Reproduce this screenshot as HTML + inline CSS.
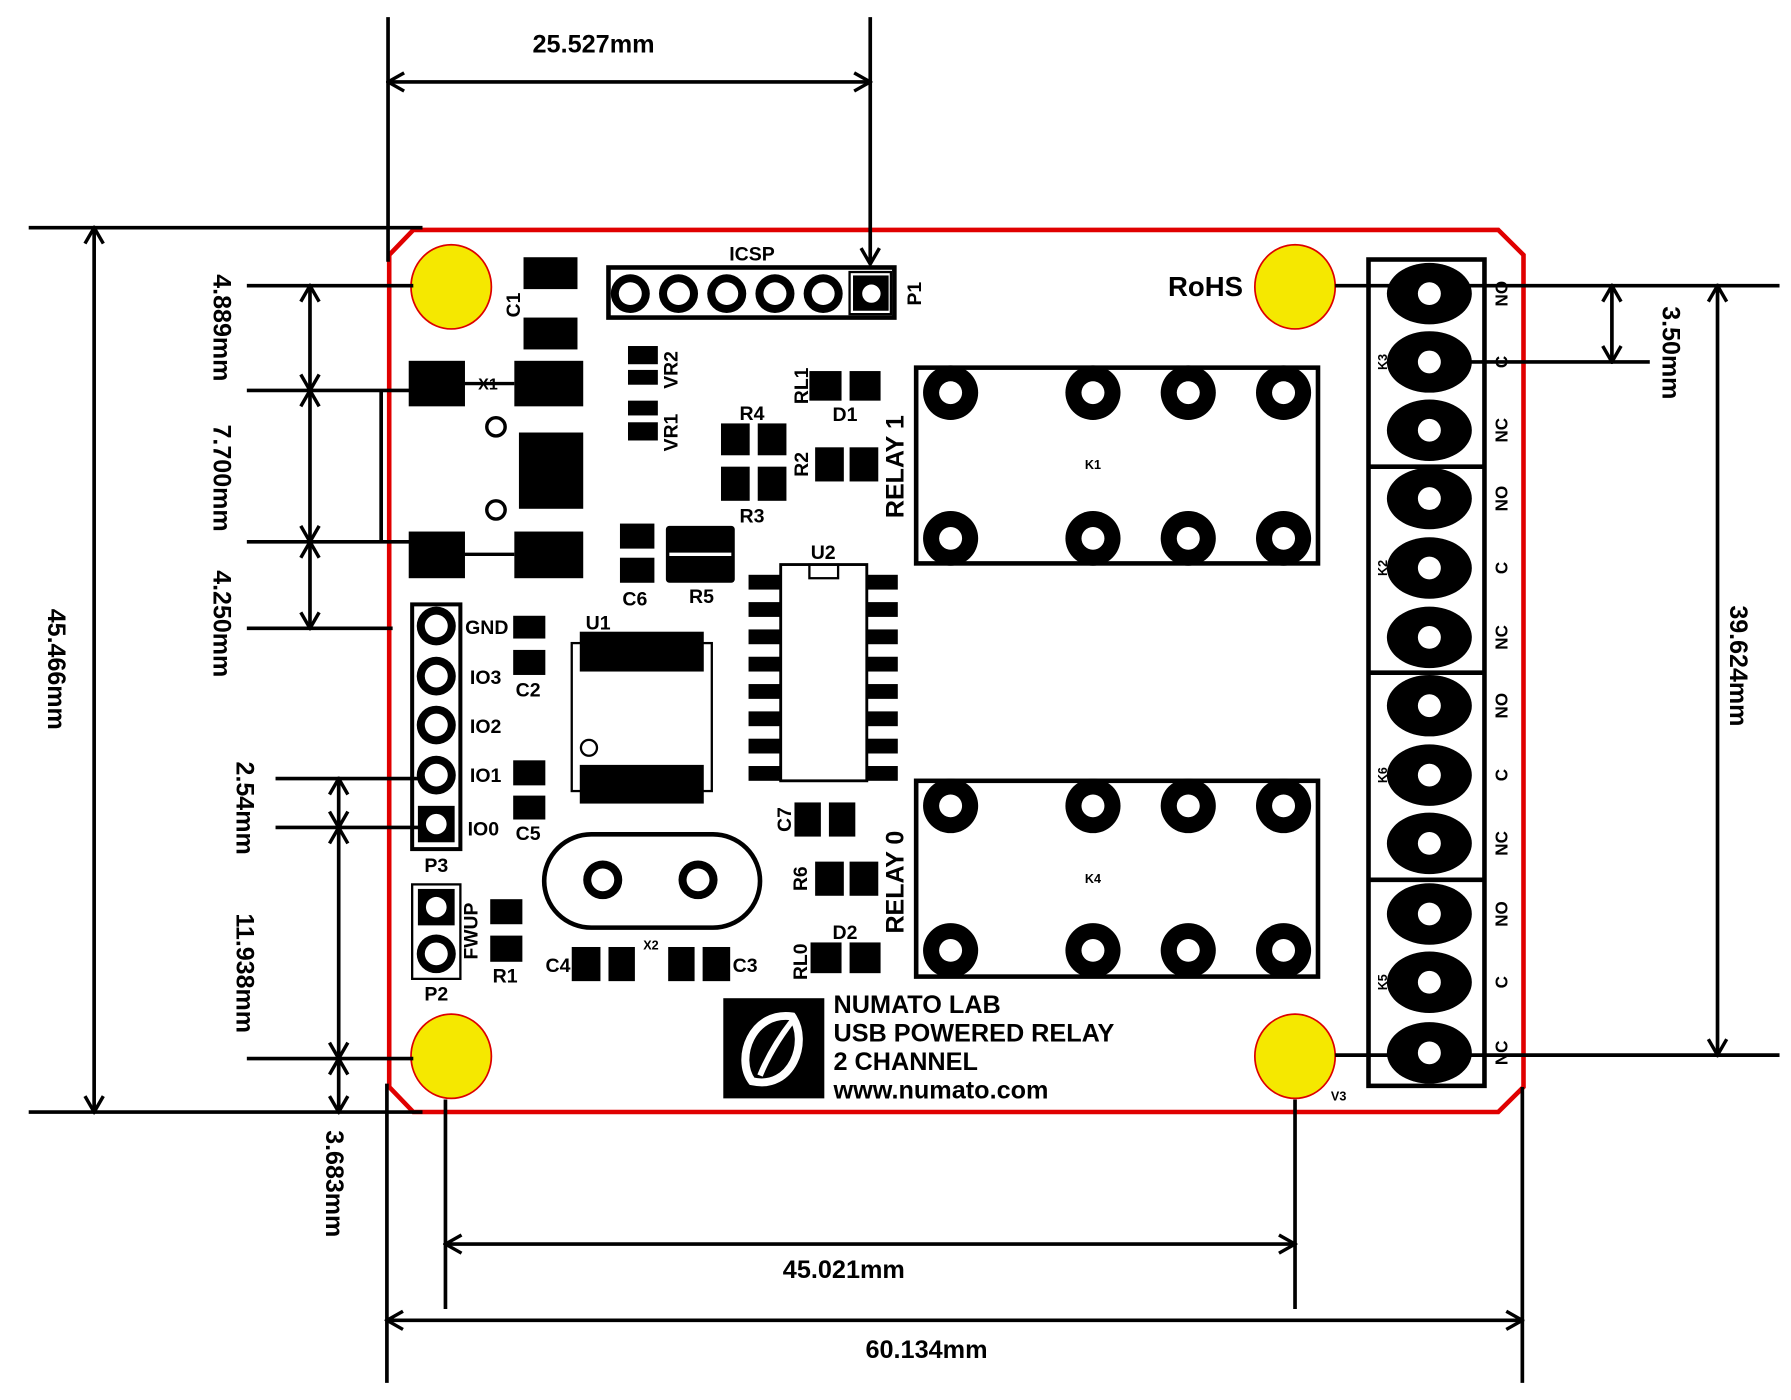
<!DOCTYPE html>
<html><head><meta charset="utf-8"><style>
html,body{margin:0;padding:0;background:#fff;}
svg{display:block;}
text{font-family:"Liberation Sans",sans-serif;font-weight:bold;fill:#000;}
</style></head><body>
<svg width="1791" height="1400" viewBox="0 0 1560 1230" preserveAspectRatio="none" xmlns="http://www.w3.org/2000/svg">
<defs>
<marker id="a" viewBox="-16 -10 18 20" markerWidth="18" markerHeight="20" refX="0" refY="0" orient="auto-start-reverse" markerUnits="userSpaceOnUse">
<path d="M-14,-8 L0,0 L-14,8" fill="none" stroke="#000" stroke-width="3"/>
</marker>
<g id="pin"><circle r="24" fill="#000"/><circle r="10" fill="#fff"/></g>
<g id="oval"><ellipse rx="37" ry="27" fill="#000"/><circle r="10" fill="#fff"/></g>
<g id="ring"><circle r="17" fill="#000"/><circle r="10" fill="#fff"/></g>
</defs>

<!-- board -->
<path d="M360,202 L1305,202 L1327,224 L1327,955 L1305,977 L360,977 L339,955 L339,224 Z" fill="none" stroke="#e00000" stroke-width="4"/>

<!-- mounting holes -->
<g fill="#f5e800" stroke="#d00" stroke-width="1.5">
<ellipse cx="393" cy="252" rx="35" ry="37"/><ellipse cx="1128" cy="252" rx="35" ry="37"/>
<ellipse cx="393" cy="928" rx="35" ry="37"/><ellipse cx="1128" cy="928" rx="35" ry="37"/>
</g>

<!-- dimension lines -->
<g stroke="#000" stroke-width="3.2" fill="none">
<line x1="338" y1="15" x2="338" y2="230"/>
<line x1="758" y1="15" x2="758" y2="232" marker-end="url(#a)"/>
<line x1="338" y1="72" x2="758" y2="72" marker-start="url(#a)" marker-end="url(#a)"/>
<line x1="25" y1="200" x2="368" y2="200"/>
<line x1="25" y1="977" x2="368" y2="977"/>
<line x1="82" y1="200" x2="82" y2="977" marker-start="url(#a)" marker-end="url(#a)"/>
<line x1="215" y1="251" x2="360" y2="251"/>
<line x1="215" y1="343" x2="360" y2="343"/>
<line x1="215" y1="476" x2="360" y2="476"/>
<line x1="215" y1="552" x2="342" y2="552"/>
<line x1="332" y1="343" x2="332" y2="476"/>
<line x1="270" y1="251" x2="270" y2="343" marker-start="url(#a)" marker-end="url(#a)"/>
<line x1="270" y1="343" x2="270" y2="476" marker-start="url(#a)" marker-end="url(#a)"/>
<line x1="270" y1="476" x2="270" y2="552" marker-start="url(#a)" marker-end="url(#a)"/>
<line x1="240" y1="684" x2="368" y2="684"/>
<line x1="240" y1="727" x2="368" y2="727"/>
<line x1="215" y1="930" x2="360" y2="930"/>
<line x1="295" y1="684" x2="295" y2="727" marker-start="url(#a)" marker-end="url(#a)"/>
<line x1="295" y1="727" x2="295" y2="930" marker-start="url(#a)" marker-end="url(#a)"/>
<line x1="295" y1="930" x2="295" y2="977" marker-start="url(#a)" marker-end="url(#a)"/>
<line x1="337" y1="952" x2="337" y2="1215"/>
<line x1="388" y1="966" x2="388" y2="1150"/>
<line x1="1128" y1="966" x2="1128" y2="1150"/>
<line x1="1326" y1="955" x2="1326" y2="1215"/>
<line x1="388" y1="1093" x2="1128" y2="1093" marker-start="url(#a)" marker-end="url(#a)"/>
<line x1="337" y1="1160" x2="1326" y2="1160" marker-start="url(#a)" marker-end="url(#a)"/>
<line x1="1163" y1="251" x2="1550" y2="251"/>
<line x1="1245" y1="318" x2="1437" y2="318"/>
<line x1="1163" y1="927" x2="1550" y2="927"/>
<line x1="1404" y1="251" x2="1404" y2="318" marker-start="url(#a)" marker-end="url(#a)"/>
<line x1="1496" y1="251" x2="1496" y2="927" marker-start="url(#a)" marker-end="url(#a)"/>
</g>
<g font-size="22">
<text x="517" y="46" text-anchor="middle">25.527mm</text>
<text x="735" y="1123" text-anchor="middle">45.021mm</text>
<text x="807" y="1193" text-anchor="middle">60.134mm</text>
<text transform="translate(42,588) rotate(90)" text-anchor="middle">45.466mm</text>
<text transform="translate(186,288) rotate(90)" text-anchor="middle">4.889mm</text>
<text transform="translate(186,420) rotate(90)" text-anchor="middle">7.700mm</text>
<text transform="translate(186,548) rotate(90)" text-anchor="middle">4.250mm</text>
<text transform="translate(206,710) rotate(90)" text-anchor="middle">2.54mm</text>
<text transform="translate(206,855) rotate(90)" text-anchor="middle">11.938mm</text>
<text transform="translate(284,1040) rotate(90)" text-anchor="middle">3.683mm</text>
<text transform="translate(1448,310) rotate(90)" text-anchor="middle">3.50mm</text>
<text transform="translate(1507,585) rotate(90)" text-anchor="middle">39.624mm</text>
</g>

<text x="1050" y="260" font-size="24" text-anchor="middle">RoHS</text>

<!-- terminal block -->
<g fill="none" stroke="#000" stroke-width="4">
<rect x="1192" y="228" width="101" height="726"/>
<line x1="1192" y1="410" x2="1293" y2="410"/>
<line x1="1192" y1="591" x2="1293" y2="591"/>
<line x1="1192" y1="773" x2="1293" y2="773"/>
</g>
<g>
<use href="#oval" x="1245" y="258"/><use href="#oval" x="1245" y="318"/><use href="#oval" x="1245" y="378"/>
<use href="#oval" x="1245" y="438"/><use href="#oval" x="1245" y="499"/><use href="#oval" x="1245" y="560"/>
<use href="#oval" x="1245" y="620"/><use href="#oval" x="1245" y="681"/><use href="#oval" x="1245" y="741"/>
<use href="#oval" x="1245" y="803"/><use href="#oval" x="1245" y="863"/><use href="#oval" x="1245" y="925"/>
</g>
<g font-size="15" text-anchor="middle">
<text transform="translate(1313,258) rotate(-90)">NO</text><text transform="translate(1313,318) rotate(-90)">C</text><text transform="translate(1313,378) rotate(-90)">NC</text>
<text transform="translate(1313,438) rotate(-90)">NO</text><text transform="translate(1313,499) rotate(-90)">C</text><text transform="translate(1313,560) rotate(-90)">NC</text>
<text transform="translate(1313,620) rotate(-90)">NO</text><text transform="translate(1313,681) rotate(-90)">C</text><text transform="translate(1313,741) rotate(-90)">NC</text>
<text transform="translate(1313,803) rotate(-90)">NO</text><text transform="translate(1313,863) rotate(-90)">C</text><text transform="translate(1313,925) rotate(-90)">NC</text>
</g>
<g font-size="11" text-anchor="middle">
<text transform="translate(1208,318) rotate(-90)">K3</text><text transform="translate(1208,499) rotate(-90)">K2</text>
<text transform="translate(1208,681) rotate(-90)">K6</text><text transform="translate(1208,863) rotate(-90)">K5</text>
<text x="1166" y="967" font-weight="normal">V3</text>
</g>

<!-- relays -->
<g fill="none" stroke="#000" stroke-width="4">
<rect x="798" y="323" width="350" height="172"/>
<rect x="798" y="686" width="350" height="172"/>
</g>
<g>
<use href="#pin" x="828" y="345"/><use href="#pin" x="952" y="345"/><use href="#pin" x="1035" y="345"/><use href="#pin" x="1118" y="345"/>
<use href="#pin" x="828" y="473"/><use href="#pin" x="952" y="473"/><use href="#pin" x="1035" y="473"/><use href="#pin" x="1118" y="473"/>
<use href="#pin" x="828" y="708"/><use href="#pin" x="952" y="708"/><use href="#pin" x="1035" y="708"/><use href="#pin" x="1118" y="708"/>
<use href="#pin" x="828" y="835"/><use href="#pin" x="952" y="835"/><use href="#pin" x="1035" y="835"/><use href="#pin" x="1118" y="835"/>
</g>
<text x="952" y="412" font-size="11" font-weight="normal" text-anchor="middle">K1</text>
<text x="952" y="776" font-size="11" font-weight="normal" text-anchor="middle">K4</text>
<text transform="translate(787,410) rotate(-90)" font-size="22" text-anchor="middle">RELAY 1</text>
<text transform="translate(787,775) rotate(-90)" font-size="22" text-anchor="middle">RELAY 0</text>

<!-- ICSP -->
<rect x="530" y="235" width="249" height="44" fill="none" stroke="#000" stroke-width="4"/>
<rect x="740" y="239" width="36" height="37" fill="none" stroke="#000" stroke-width="2"/>
<use href="#ring" x="549" y="258"/><use href="#ring" x="591" y="258"/><use href="#ring" x="633" y="258"/><use href="#ring" x="675" y="258"/><use href="#ring" x="717" y="258"/>
<rect x="743" y="242" width="31" height="31" fill="#000"/><circle cx="759" cy="258" r="8" fill="#fff"/>
<text x="655" y="229" font-size="17" text-anchor="middle">ICSP</text>
<text transform="translate(802,258) rotate(-90)" font-size="17" text-anchor="middle">P1</text>

<!-- left components -->
<g fill="#000">
<rect x="456" y="226" width="47" height="28"/><rect x="456" y="279" width="47" height="28"/>
<rect x="356" y="317" width="49" height="40"/><rect x="448" y="317" width="60" height="40"/>
<rect x="452" y="380" width="56" height="67"/>
<rect x="356" y="467" width="49" height="41"/><rect x="448" y="467" width="60" height="41"/>
<rect x="547" y="304" width="26" height="16"/><rect x="547" y="325" width="26" height="13"/>
<rect x="547" y="352" width="26" height="13"/><rect x="547" y="371" width="26" height="16"/>
<rect x="628" y="372" width="25" height="28"/><rect x="660" y="372" width="25" height="28"/>
<rect x="628" y="410" width="25" height="30"/><rect x="660" y="410" width="25" height="30"/>
<rect x="705" y="326" width="28" height="26"/><rect x="740" y="326" width="27" height="26"/>
<rect x="710" y="393" width="25" height="30"/><rect x="740" y="393" width="25" height="30"/>
<rect x="540" y="460" width="30" height="22"/><rect x="540" y="490" width="30" height="22"/>
<rect x="580" y="462" width="60" height="50" rx="3"/>
<rect x="447" y="541" width="28" height="20"/><rect x="447" y="571" width="28" height="22"/>
<rect x="447" y="668" width="28" height="22"/><rect x="447" y="699" width="28" height="21"/>
<rect x="505" y="555" width="108" height="35"/><rect x="505" y="672" width="108" height="34"/>
<rect x="427" y="790" width="28" height="22"/><rect x="427" y="822" width="28" height="23"/>
<rect x="498" y="832" width="25" height="30"/><rect x="530" y="832" width="23" height="30"/>
<rect x="582" y="832" width="23" height="30"/><rect x="612" y="832" width="24" height="30"/>
<rect x="692" y="705" width="23" height="30"/><rect x="722" y="705" width="23" height="30"/>
<rect x="710" y="757" width="25" height="30"/><rect x="740" y="757" width="25" height="30"/>
<rect x="706" y="828" width="27" height="27"/><rect x="740" y="828" width="27" height="27"/>
</g>
<line x1="583" y1="487" x2="637" y2="487" stroke="#fff" stroke-width="3"/>
<g stroke="#000" stroke-width="3" fill="none">
<line x1="405" y1="337" x2="448" y2="337"/><line x1="405" y1="487" x2="448" y2="487"/>
<circle cx="432" cy="375" r="8"/><circle cx="432" cy="448" r="8"/>
<rect x="498" y="565" width="122" height="130" stroke-width="2"/>
<circle cx="513" cy="657" r="7" stroke-width="2"/>
<rect x="680" y="496" width="75" height="190" stroke-width="2.5"/>
<rect x="705" y="496" width="25" height="12" stroke-width="2"/>
<rect x="359" y="531" width="42" height="215" stroke-width="3.5"/>
<rect x="359" y="777" width="42" height="83" stroke-width="2"/>
<rect x="474" y="733" width="188" height="82" rx="41" stroke-width="4"/>
</g>
<g fill="#000">
<rect x="652" y="505" width="28" height="13"/><rect x="652" y="529" width="28" height="13"/><rect x="652" y="553" width="28" height="13"/><rect x="652" y="577" width="28" height="13"/><rect x="652" y="601" width="28" height="13"/><rect x="652" y="625" width="28" height="13"/><rect x="652" y="649" width="28" height="13"/><rect x="652" y="673" width="28" height="13"/>
<rect x="755" y="505" width="27" height="13"/><rect x="755" y="529" width="27" height="13"/><rect x="755" y="553" width="27" height="13"/><rect x="755" y="577" width="27" height="13"/><rect x="755" y="601" width="27" height="13"/><rect x="755" y="625" width="27" height="13"/><rect x="755" y="649" width="27" height="13"/><rect x="755" y="673" width="27" height="13"/>
<rect x="364" y="708" width="32" height="32"/><rect x="364" y="781" width="32" height="32"/>
</g>
<use href="#ring" x="380" y="550"/><use href="#ring" x="380" y="594"/><use href="#ring" x="380" y="637"/><use href="#ring" x="380" y="681"/>
<circle cx="380" cy="724" r="9" fill="#fff"/>
<circle cx="380" cy="797" r="9" fill="#fff"/>
<use href="#ring" x="380" y="838"/>
<use href="#ring" x="525" y="773"/><use href="#ring" x="608" y="773"/>

<g font-size="17">
<text transform="translate(453,268) rotate(-90)" text-anchor="middle">C1</text>
<text x="425" y="342" font-size="14" text-anchor="middle">X1</text>
<text transform="translate(590,325) rotate(-90)" text-anchor="middle">VR2</text>
<text transform="translate(590,380) rotate(-90)" text-anchor="middle">VR1</text>
<text x="655" y="369" text-anchor="middle">R4</text>
<text x="655" y="459" text-anchor="middle">R3</text>
<text transform="translate(704,339) rotate(-90)" text-anchor="middle">RL1</text>
<text x="736" y="370" text-anchor="middle">D1</text>
<text transform="translate(704,408) rotate(-90)" text-anchor="middle">R2</text>
<text x="553" y="532" text-anchor="middle">C6</text>
<text x="611" y="530" text-anchor="middle">R5</text>
<text x="717" y="491" text-anchor="middle">U2</text>
<text x="521" y="553" text-anchor="middle">U1</text>
<text x="424" y="557" text-anchor="middle">GND</text>
<text x="423" y="601" text-anchor="middle">IO3</text>
<text x="423" y="644" text-anchor="middle">IO2</text>
<text x="423" y="687" text-anchor="middle">IO1</text>
<text x="421" y="734" text-anchor="middle">IO0</text>
<text x="460" y="612" text-anchor="middle">C2</text>
<text x="460" y="738" text-anchor="middle">C5</text>
<text x="380" y="766" text-anchor="middle">P3</text>
<text transform="translate(416,818) rotate(-90)" text-anchor="middle">FWUP</text>
<text x="380" y="879" text-anchor="middle">P2</text>
<text x="440" y="863" text-anchor="middle">R1</text>
<text x="486" y="854" text-anchor="middle">C4</text>
<text x="649" y="854" text-anchor="middle">C3</text>
<text x="567" y="834" font-size="11" text-anchor="middle">X2</text>
<text transform="translate(689,720) rotate(-90)" text-anchor="middle">C7</text>
<text transform="translate(703,772) rotate(-90)" text-anchor="middle">R6</text>
<text x="736" y="825" text-anchor="middle">D2</text>
<text transform="translate(703,845) rotate(-90)" text-anchor="middle">RL0</text>
</g>

<!-- logo -->
<rect x="630" y="877" width="88" height="88" fill="#000"/>
<path d="M690,893 C655,888 640,930 655,950 C690,958 705,915 690,893 Z" fill="none" stroke="#fff" stroke-width="7"/>
<path d="M662,945 C670,925 680,910 690,897" fill="none" stroke="#fff" stroke-width="5"/>
<g font-size="22" font-weight="normal" style="font-weight:bold">
<text x="726" y="890">NUMATO LAB</text>
<text x="726" y="915">USB POWERED RELAY</text>
<text x="726" y="940">2 CHANNEL</text>
<text x="726" y="965">www.numato.com</text>
</g>
</svg>
</body></html>
